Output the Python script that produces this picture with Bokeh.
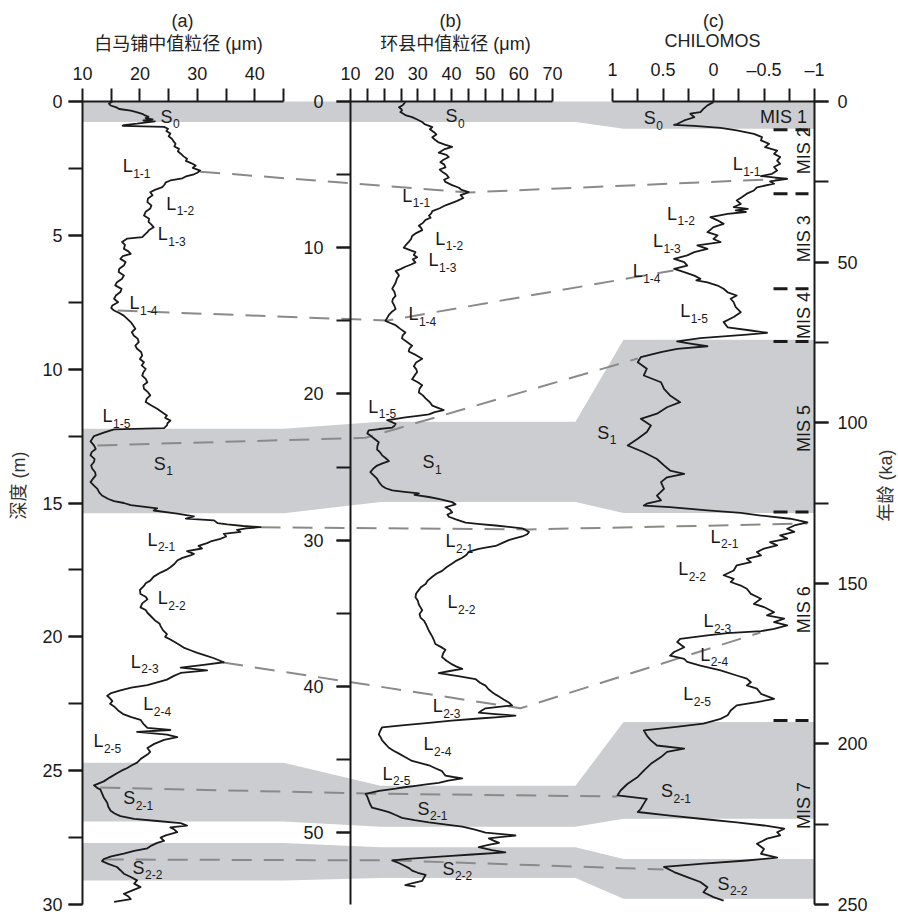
import math
from bokeh.plotting import figure
from bokeh.models import Range1d, LinearAxis, SingleIntervalTicker, FixedTicker, ColumnDataSource
from bokeh.core.properties import value
from bokeh.embed import file_html
from bokeh.resources import INLINE

# ------------------------------------------------------------------ data
# (a) Baimapu: depth (m) and median grain size (um)
A_DEPTH = [0.00, 0.08, 0.15, 0.22, 0.28, 0.34, 0.40, 0.46, 0.52, 0.57,
           0.62, 0.67, 0.71, 0.74, 0.78, 0.83, 0.88, 0.91, 0.95, 1.02,
           1.10, 1.20, 1.30, 1.40, 1.50, 1.58, 1.68, 1.77, 1.86, 1.95,
           2.05, 2.14, 2.22, 2.30, 2.39, 2.48, 2.58, 2.66, 2.72, 2.80,
           2.87, 2.95, 3.02, 3.10, 3.20, 3.30, 3.39, 3.50, 3.62, 3.76,
           3.88, 4.00, 4.12, 4.26, 4.38, 4.50, 4.60, 4.70, 4.80, 4.88,
           4.98, 5.07, 5.12, 5.25, 5.36, 5.50, 5.60, 5.69, 5.78, 5.88,
           6.00, 6.13, 6.25, 6.37, 6.50, 6.62, 6.75, 6.87, 7.00, 7.12,
           7.25, 7.37, 7.50, 7.62, 7.72, 7.81, 7.90, 8.00, 8.12, 8.24,
           8.36, 8.49, 8.62, 8.74, 8.86, 8.99, 9.12, 9.24, 9.36, 9.49,
           9.62, 9.74, 9.86, 9.99, 10.12, 10.24, 10.36, 10.49, 10.60, 10.73,
           10.86, 10.98, 11.10, 11.23, 11.36, 11.48, 11.60, 11.73, 11.82, 11.92,
           12.02, 12.10, 12.20, 12.25, 12.37, 12.50, 12.70, 12.85, 12.98, 13.10,
           13.22, 13.35, 13.47, 13.60, 13.72, 13.85, 13.97, 14.10, 14.22, 14.35,
           14.47, 14.60, 14.72, 14.85, 14.93, 15.00, 15.08, 15.20, 15.28, 15.40,
           15.50, 15.58, 15.65, 15.75, 15.80, 15.86, 15.90, 15.95, 16.00, 16.08,
           16.15, 16.25, 16.34, 16.42, 16.50, 16.60, 16.70, 16.80, 16.90, 16.96,
           17.05, 17.15, 17.28, 17.40, 17.50, 17.60, 17.75, 17.90, 18.00, 18.10,
           18.25, 18.40, 18.50, 18.60, 18.75, 18.90, 19.00, 19.10, 19.25, 19.40,
           19.50, 19.60, 19.75, 19.90, 20.00, 20.10, 20.25, 20.40, 20.50, 20.60,
           20.70, 20.80, 20.95, 21.05, 21.15, 21.25, 21.35, 21.45, 21.60, 21.70,
           21.80, 21.90, 22.00, 22.10, 22.20, 22.30, 22.40, 22.50, 22.60, 22.75,
           22.90, 23.00, 23.10, 23.25, 23.40, 23.48, 23.55, 23.65, 23.75, 23.85,
           24.00, 24.15, 24.30, 24.40, 24.55, 24.70, 24.80, 24.90, 25.00, 25.10,
           25.25, 25.40, 25.55, 25.65, 25.70, 25.85, 26.00, 26.10, 26.20, 26.35,
           26.50, 26.60, 26.70, 26.80, 26.88, 26.96, 27.05, 27.12, 27.20, 27.30,
           27.42, 27.50, 27.62, 27.70, 27.80, 27.90, 28.00, 28.10, 28.20, 28.30,
           28.38, 28.48, 28.60, 28.72, 28.85, 28.98, 29.10, 29.22, 29.35, 29.48,
           29.60, 29.70, 29.80, 29.90]
A_SIZE = [15.2, 14.6, 14.9, 15.9, 16.4, 18.4, 19.4, 20.4, 20.9, 21.5,
          21.0, 22.2, 20.6, 22.6, 21.2, 19.5, 17.2, 17.0, 24.2, 24.9,
          24.6, 25.3, 25.0, 25.6, 25.9, 26.2, 26.0, 26.8, 26.6, 27.1,
          27.6, 28.2, 28.0, 28.9, 29.7, 29.2, 30.5, 30.0, 29.4, 28.0,
          27.4, 25.3, 24.5, 24.3, 23.9, 22.6, 21.8, 22.2, 21.4, 21.3,
          22.0, 21.8, 21.0, 20.7, 21.6, 21.5, 22.0, 22.4, 21.6, 21.3,
          20.8, 20.4, 17.8, 16.9, 17.4, 17.2, 18.0, 18.4, 17.0, 16.6,
          17.5, 17.2, 16.4, 16.3, 17.2, 16.9, 16.0, 15.7, 16.8, 16.6,
          15.8, 15.5, 16.2, 15.2, 15.0, 15.5, 16.4, 17.2, 17.8, 18.4,
          18.8, 19.2, 18.6, 18.9, 19.6, 19.8, 19.2, 19.5, 20.2, 20.4,
          20.0, 20.7, 20.3, 21.0, 20.6, 20.4, 21.0, 21.3, 20.6, 20.7,
          21.4, 21.8, 21.2, 21.0, 22.0, 23.0, 23.8, 24.7, 24.4, 25.3,
          24.8, 24.7, 24.2, 15.5, 13.7, 12.0, 11.4, 12.0, 12.3, 11.6,
          11.4, 12.1, 12.0, 11.5, 11.7, 12.2, 12.3, 11.8, 11.4, 12.0,
          12.6, 12.9, 13.4, 14.5, 15.5, 17.2, 18.4, 23.0, 22.4, 26.5,
          29.4, 28.0, 32.9, 33.5, 35.2, 38.0, 41.0, 38.5, 36.9, 37.5,
          34.6, 35.0, 34.0, 32.5, 31.7, 30.2, 30.8, 28.2, 29.4, 28.8,
          27.4, 26.5, 26.0, 25.3, 24.6, 23.6, 22.4, 21.8, 21.0, 20.7,
          20.0, 20.1, 21.0, 21.3, 20.4, 20.1, 21.0, 21.3, 22.0, 22.7,
          23.4, 23.6, 24.0, 24.7, 24.4, 25.3, 26.5, 27.6, 28.8, 30.0,
          31.5, 32.9, 34.6, 31.1, 27.1, 31.7, 27.1, 26.0, 24.7, 23.0,
          21.3, 18.5, 16.6, 15.0, 14.3, 14.8, 15.2, 14.8, 15.5, 16.2,
          17.2, 18.5, 20.1, 20.6, 21.3, 25.3, 19.5, 24.7, 26.5, 24.2,
          22.5, 21.3, 21.8, 21.3, 20.2, 19.5, 18.6, 17.8, 16.8, 16.0,
          14.8, 13.7, 12.0, 12.6, 13.1, 13.4, 13.7, 14.0, 14.3, 14.5,
          14.9, 15.6, 16.6, 19.0, 23.0, 27.1, 28.2, 25.3, 26.0, 26.5,
          24.5, 23.6, 24.2, 23.0, 22.0, 21.3, 19.0, 17.2, 15.0, 13.7,
          13.4, 14.5, 16.0, 16.6, 17.2, 18.5, 19.5, 19.0, 20.1, 18.6,
          17.2, 18.0, 18.4, 15.5]

# (b) Huanxian: depth (m) and median grain size (um)
B_DEPTH = [0.05, 0.25, 0.40, 0.50, 0.60, 0.72, 0.85, 0.95, 1.07, 1.20,
           1.40, 1.55, 1.75, 1.90, 2.10, 2.25, 2.45, 2.60, 2.80, 2.95,
           3.10, 3.25, 3.50, 3.65, 3.80, 4.00, 4.15, 4.30, 4.50, 4.65,
           4.80, 5.00, 5.20, 5.35, 5.50, 5.70, 5.90, 6.05, 6.20, 6.30,
           6.40, 6.60, 6.80, 6.95, 7.10, 7.30, 7.50, 7.65, 7.80, 7.95,
           8.10, 8.30, 8.50, 8.65, 8.80, 9.00, 9.20, 9.40, 9.60, 9.80,
           10.00, 10.15, 10.30, 10.50, 10.65, 10.80, 11.00, 11.15, 11.30, 11.45,
           11.60, 11.75, 11.90, 12.10, 12.40, 12.60, 12.80, 13.00, 13.30, 13.50,
           13.70, 13.95, 14.20, 14.40, 14.60, 14.80, 15.00, 15.15, 15.30, 15.55,
           15.80, 16.00, 16.20, 16.45, 16.70, 16.90, 17.10, 17.35, 17.60, 17.85,
           18.10, 18.30, 18.50, 18.75, 19.00, 19.20, 19.40, 19.65, 19.90, 20.10,
           20.30, 20.55, 20.80, 20.95, 21.10, 21.25, 21.40, 21.50, 21.60, 21.70,
           21.80, 21.95, 22.05, 22.20, 22.30, 22.40, 22.50, 22.70, 22.85, 23.05,
           23.30, 23.55, 23.80, 24.00, 24.20, 24.40, 24.60, 24.75, 24.90, 25.10,
           25.35, 25.55, 25.80, 26.05, 26.30, 26.45, 26.60, 26.70, 26.80, 26.90,
           27.05, 27.20, 27.40, 27.55, 27.75, 27.90, 28.10, 28.25, 28.40, 28.60,
           28.80, 28.90, 29.00, 29.10, 29.20, 29.30, 29.45, 29.60, 29.75, 29.90,
           30.00, 30.20, 30.40, 30.50, 30.60, 30.70, 30.80, 31.00, 31.20, 31.40,
           31.60, 31.85, 32.10, 32.30, 32.50, 32.75, 33.00, 33.20, 33.40, 33.65,
           33.90, 34.15, 34.40, 34.60, 34.80, 35.05, 35.30, 35.50, 35.70, 35.95,
           36.20, 36.40, 36.60, 36.85, 37.10, 37.30, 37.50, 37.75, 38.00, 38.25,
           38.50, 38.65, 38.80, 38.95, 39.10, 39.30, 39.50, 39.75, 39.95, 40.20,
           40.40, 40.55, 40.70, 40.90, 41.10, 41.30, 41.40, 41.50, 41.65, 41.80,
           41.90, 42.00, 42.10, 42.20, 42.35, 42.50, 42.65, 42.80, 43.05, 43.30,
           43.50, 43.70, 43.95, 44.20, 44.40, 44.60, 44.85, 45.10, 45.25, 45.40,
           45.60, 45.80, 46.00, 46.10, 46.20, 46.30, 46.45, 46.60, 46.70, 46.80,
           46.90, 47.00, 47.15, 47.35, 47.55, 47.80, 48.05, 48.30, 48.45, 48.60,
           48.80, 49.00, 49.15, 49.30, 49.45, 49.60, 49.80, 50.00, 50.20, 50.30,
           50.40, 50.55, 50.70, 50.85, 51.00, 51.20, 51.35, 51.50, 51.60, 51.70,
           51.80, 51.90, 52.10, 52.30, 52.45, 52.60, 52.75, 52.90, 53.10, 53.30,
           53.45, 53.60, 53.70]
B_SIZE = [26.3, 25.5, 24.4, 25.0, 25.3, 24.8, 25.8, 26.5, 28.3, 29.5,
          31.3, 32.0, 34.3, 33.6, 34.8, 35.5, 34.3, 35.0, 36.2, 38.0,
          40.2, 38.0, 36.2, 38.5, 39.2, 37.5, 36.7, 37.8, 38.2, 36.5,
          37.2, 38.5, 39.2, 37.8, 38.2, 40.0, 42.2, 43.0, 45.1, 44.0,
          42.7, 43.5, 41.7, 40.0, 38.2, 36.5, 34.3, 34.0, 33.3, 33.8,
          32.3, 31.5, 30.3, 31.0, 31.3, 29.5, 28.3, 28.0, 27.3, 26.5,
          25.8, 27.5, 29.3, 28.8, 29.8, 28.5, 29.3, 28.0, 26.3, 25.0,
          23.4, 24.0, 24.4, 23.8, 23.4, 22.9, 22.4, 23.0, 23.4, 22.6,
          22.4, 23.0, 23.4, 22.2, 21.4, 20.9, 20.4, 21.8, 23.4, 24.8,
          26.3, 25.5, 25.3, 26.8, 28.3, 27.5, 27.3, 29.5, 31.3, 29.5,
          28.8, 29.5, 29.8, 29.0, 28.3, 30.0, 31.3, 30.5, 30.3, 31.5,
          32.3, 33.5, 34.3, 36.0, 37.7, 35.0, 33.3, 30.0, 26.3, 23.5,
          20.9, 22.5, 23.4, 23.0, 22.4, 18.5, 15.4, 15.0, 15.9, 17.0,
          18.4, 18.0, 17.9, 18.8, 19.4, 20.5, 21.4, 19.5, 17.9, 16.8,
          15.9, 16.8, 17.9, 18.5, 19.4, 20.5, 22.4, 26.0, 30.3, 29.0,
          33.3, 36.5, 40.2, 41.2, 38.2, 39.5, 40.2, 38.8, 39.2, 41.5,
          44.2, 48.5, 53.1, 57.0, 61.0, 62.0, 63.0, 62.5, 61.0, 58.5,
          57.0, 55.0, 53.1, 50.5, 48.1, 46.5, 45.1, 44.5, 43.2, 41.5,
          40.2, 38.5, 37.2, 35.5, 34.3, 33.0, 32.3, 31.0, 30.3, 29.5,
          29.3, 30.0, 30.3, 30.8, 31.3, 30.5, 30.8, 31.8, 32.3, 32.8,
          33.3, 33.8, 34.3, 34.8, 35.2, 36.8, 38.2, 37.5, 37.2, 38.5,
          40.2, 41.5, 43.2, 39.5, 36.2, 42.0, 47.1, 48.5, 50.1, 51.0,
          52.1, 53.0, 54.1, 55.5, 57.0, 58.0, 54.0, 50.1, 49.0, 48.1,
          53.0, 59.0, 54.0, 48.1, 40.0, 33.3, 26.0, 19.4, 18.8, 18.4,
          19.0, 19.4, 20.4, 21.4, 22.8, 24.4, 26.3, 28.3, 30.8, 33.3,
          35.2, 37.2, 37.8, 38.2, 40.5, 43.2, 39.0, 36.2, 32.5, 29.3,
          26.0, 23.4, 18.5, 14.5, 15.0, 15.4, 15.8, 16.4, 19.0, 21.4,
          23.4, 25.3, 29.0, 33.3, 38.5, 43.2, 47.0, 50.1, 59.0, 55.0,
          51.1, 52.5, 54.1, 51.0, 48.1, 52.0, 56.0, 46.1, 40.0, 33.3,
          27.0, 22.4, 24.5, 26.3, 27.5, 28.3, 30.0, 32.3, 31.8, 31.3,
          28.5, 26.3, 29.3]

# (c) CHILOMOS stack: age (ka) and index
C_AGE = [0.2, 1.2, 2.3, 3.3, 3.8, 4.9, 5.9, 7.0, 7.3, 7.6,
         8.2, 9.0, 10.1, 11.1, 12.1, 13.2, 14.2, 15.3, 16.3, 17.3,
         18.4, 19.4, 20.4, 21.5, 22.5, 23.2, 24.1, 24.9, 25.6, 26.7,
         27.7, 28.7, 29.8, 30.8, 31.9, 32.9, 33.4, 33.9, 34.4, 35.0,
         36.0, 37.0, 38.1, 39.1, 40.7, 41.7, 42.8, 43.8, 44.8, 45.9,
         46.9, 47.9, 49.0, 50.0, 51.1, 52.1, 53.1, 54.2, 55.2, 55.7,
         56.3, 57.3, 58.3, 59.4, 60.4, 61.4, 62.5, 64.0, 65.6, 67.1,
         68.7, 70.3, 71.3, 72.0, 72.6, 73.7, 74.7, 75.4, 76.2, 77.0,
         78.0, 79.6, 81.2, 83.2, 85.3, 87.4, 89.5, 91.5, 93.6, 95.2,
         97.2, 98.8, 100.9, 102.9, 105.0, 107.1, 109.2, 111.3, 113.3, 114.9,
         115.9, 117.0, 118.5, 120.6, 122.7, 124.2, 125.2, 125.8, 126.3, 127.3,
         128.1, 128.9, 129.9, 131.0, 132.0, 133.0, 134.0, 135.1, 136.1, 137.2,
         138.2, 139.2, 140.3, 141.3, 142.4, 143.4, 144.4, 146.0, 147.5, 148.6,
         149.6, 150.7, 151.7, 153.3, 154.8, 156.4, 157.4, 159.0, 160.0, 161.0,
         162.1, 163.1, 164.2, 164.9, 165.5, 166.2, 167.3, 168.3, 169.9, 171.4,
         172.5, 173.5, 174.5, 175.6, 177.1, 178.7, 179.7, 180.8, 181.8, 182.8,
         184.4, 186.0, 187.0, 188.0, 189.6, 191.1, 192.2, 193.7, 194.8, 195.8,
         197.4, 198.9, 200.5, 201.5, 202.5, 204.1, 206.2, 208.3, 210.3, 212.4,
         214.5, 216.0, 217.1, 218.6, 220.2, 221.2, 222.3, 223.3, 224.4, 225.4,
         226.4, 227.5, 228.5, 229.5, 231.1, 232.7, 234.2, 235.4, 236.3, 237.3,
         238.3, 239.9, 241.5, 243.0, 244.6, 246.2, 247.7, 248.8]
C_INDEX = [0.00, 0.06, 0.10, 0.13, 0.23, 0.19, 0.29, 0.36, 0.39, 0.19,
           -0.07, -0.23, -0.40, -0.48, -0.47, -0.55, -0.51, -0.63, -0.60, -0.66,
           -0.63, -0.66, -0.60, -0.63, -0.58, -0.47, -0.73, -0.56, -0.60, -0.43,
           -0.40, -0.33, -0.28, -0.23, -0.27, -0.20, -0.34, -0.22, -0.32, -0.14,
           0.03, -0.04, -0.10, 0.00, 0.06, -0.04, 0.00, -0.07, 0.16, 0.06,
           0.19, 0.26, 0.39, 0.29, 0.26, 0.39, 0.29, 0.19, 0.13, 0.17,
           0.06, -0.04, -0.10, -0.14, -0.23, -0.17, -0.20, -0.22, -0.27, -0.20,
           -0.10, -0.14, -0.37, -0.53, -0.33, 0.13, 0.36, 0.23, 0.06, 0.36,
           0.52, 0.72, 0.75, 0.66, 0.69, 0.52, 0.49, 0.43, 0.33, 0.46,
           0.56, 0.72, 0.62, 0.66, 0.75, 0.85, 0.69, 0.56, 0.49, 0.43,
           0.29, 0.46, 0.52, 0.49, 0.56, 0.52, 0.66, 0.69, 0.43, 0.06,
           -0.27, -0.47, -0.76, -0.93, -0.80, -0.73, -0.80, -0.66, -0.73, -0.56,
           -0.63, -0.50, -0.43, -0.47, -0.33, -0.37, -0.23, -0.20, -0.10, -0.20,
           -0.17, -0.27, -0.33, -0.37, -0.47, -0.40, -0.50, -0.60, -0.53, -0.70,
           -0.60, -0.73, -0.60, -0.47, -0.14, 0.06, 0.33, 0.36, 0.29, 0.39,
           0.43, 0.29, 0.26, 0.13, -0.07, -0.23, -0.33, -0.37, -0.33, -0.43,
           -0.47, -0.60, -0.43, -0.23, -0.17, -0.14, -0.07, 0.10, 0.39, 0.69,
           0.66, 0.62, 0.56, 0.29, 0.46, 0.52, 0.62, 0.69, 0.75, 0.85,
           0.92, 0.95, 0.66, 0.69, 0.72, 0.75, 0.43, 0.13, -0.23, -0.50,
           -0.70, -0.63, -0.66, -0.53, -0.43, -0.50, -0.47, -0.63, -0.33, 0.10,
           0.49, 0.39, 0.26, 0.13, 0.06, 0.10, 0.00, -0.10]

# palaeosol bands (S0, S1, S2-1, S2-2): top/bottom in each record's own units
BAND_A_TOP = [0.0, 12.23, 24.7, 27.7]
BAND_A_BOT = [0.77, 15.38, 26.9, 29.1]
BAND_B_TOP = [0.0, 21.9, 46.8, 51.0]
BAND_B_BOT = [1.41, 27.4, 49.6, 53.1]
BAND_C_TOP = [0.0, 74.2, 193.2, 235.8]
BAND_C_BOT = [8.5, 128.1, 223.3, 248.2]

# correlation tie points (dashed lines)
TIE_A_SIZE = [30.5, 16.1, 12.6, 41.0, 34.5, 13.1, 13.7]
TIE_A_DEPTH = [2.62, 7.81, 12.85, 15.91, 20.96, 25.63, 28.32]
TIE_B_SIZE = [45.0, 20.9, 14.5, 62.9, 60.5, 14.5, 21.9]
TIE_B_DEPTH = [6.22, 14.98, 23.0, 29.27, 41.5, 47.33, 51.9]
TIE_C_INDEX = [-0.73, 0.396, 0.75, -0.93, -0.465, 0.95, 0.495]
TIE_C_AGE = [24.0, 52.6, 80.0, 131.4, 165.3, 216.4, 239.1]

# marine isotope stages
MIS_BOUNDS = [8.8, 28.7, 58.3, 74.7, 127.8, 192.7]
MIS_NAMES = ["MIS 2", "MIS 3", "MIS 4", "MIS 5", "MIS 6", "MIS 7"]
MIS_MID = [15.3, 42.7, 66.6, 101.8, 158.2, 219.2]
MIS1_NAME, MIS1_AGE = "MIS 1", 4.7

# unit labels
LBL_BASE = ["S", "L", "L", "L", "L", "L", "S", "L", "L", "L", "L", "L", "S", "S"]
LBL_SUB = ["0", "1-1", "1-2", "1-3", "1-4", "1-5", "1", "2-1", "2-2", "2-3", "2-4", "2-5", "2-1", "2-2"]
A_LBL_X = [23.6, 17.0, 24.6, 23.1, 18.2, 13.5, 22.4, 21.3, 23.1, 18.4, 20.6, 11.9, 17.1, 18.7]
A_LBL_Y = [0.64, 2.50, 3.89, 5.04, 7.62, 11.84, 13.6, 16.44, 18.64, 21.0, 22.6, 23.98, 26.1, 28.7]
B_LBL_X = [38.2, 25.4, 35.2, 33.2, 27.2, 15.3, 31.4, 38.2, 38.8, 34.4, 31.7, 19.5, 29.9, 37.3]
B_LBL_Y = [1.16, 6.57, 9.51, 11.0, 14.7, 21.0, 24.8, 30.2, 34.4, 41.5, 44.1, 46.1, 48.5, 52.6]
C_LBL_X = [0.69, -0.19, 0.46, 0.60, 0.80, 0.33, 1.15, 0.03, 0.35, 0.10, 0.13, 0.30, 0.52, -0.04]
C_LBL_Y = [5.9, 20.2, 35.5, 44.2, 53.5, 66.0, 103.7, 136.1, 146.3, 162.5, 172.8, 185.2, 215.4, 244.1]

# axes
A_TICKS, A_MINOR = [10, 20, 30, 40], [15, 25, 35, 45]
B_TICKS, B_MINOR = [10, 20, 30, 40, 50, 60, 70], [15, 25, 35, 45, 55, 65]
C_TICKS, C_MINOR = [1, 0.5, 0, -0.5, -1], [0.75, 0.25, -0.25, -0.75]
C_TICK_TEXT = ["1", "0.5", "0", "\u20130.5", "\u20131"]

TITLES = ["(a)", "白马铺中值粒径 (μm)", "(b)", "环县中值粒径 (μm)", "(c)", "CHILOMOS"]
Y_TITLES = ["深度 (m)", "年龄 (ka)"]

# ------------------------------------------------------------------ layout
W, H = 898, 914                       # canvas == frame (px)
Y0, Y1 = 101, 904                     # px of value zero / of Y_BOTTOM values
X_ANCH = {"a": (10, 82, 45, 283), "b": (10, 350, 70, 552), "c": (1, 612, -1, 814)}
Y_BOTTOM = {"a": 30.0, "b": 54.92, "c": 250.0}
AB = (283, 380)   # band connector a->b (px)
BC = (575, 623)   # band connector b->c (px)
INK = "#1a1a1a"
GRAY = "#cbcdd0"
DASH_GRAY = "#8a8a8a"
FONT = "Liberation Sans, Noto Sans CJK SC"
FS = "18px"


def xv(k, px):
    v0, p0, v1, p1 = X_ANCH[k]
    return v0 + (px - p0) * (v1 - v0) / (p1 - p0)


def xp(k, v):
    v0, p0, v1, p1 = X_ANCH[k]
    return p0 + (v - v0) * (p1 - p0) / (v1 - v0)


def yv(k, py):
    return (py - Y0) * Y_BOTTOM[k] / (Y1 - Y0)


def yp(k, v):
    return Y0 + v * (Y1 - Y0) / Y_BOTTOM[k]


def nm(k):
    return "default" if k == "a" else k


def rn(k):
    return dict(x_range_name=nm(k), y_range_name=nm(k))


xr = {k: Range1d(start=xv(k, 0), end=xv(k, W)) for k in "abc"}
yr = {k: Range1d(start=yv(k, H), end=yv(k, 0)) for k in "abc"}

p = figure(width=W, height=H, x_range=xr["a"], y_range=yr["a"],
           output_backend="svg", toolbar_location=None,
           x_axis_type=None, y_axis_type=None,
           min_border_left=0, min_border_right=0, min_border_top=0, min_border_bottom=0)
p.extra_x_ranges = {"b": xr["b"], "c": xr["c"]}
p.extra_y_ranges = {"b": yr["b"], "c": yr["c"]}
p.outline_line_color = None
p.background_fill_color = "white"
p.border_fill_color = "white"
p.grid.visible = False


def add_text(xs, ys, texts, k="a", **kw):
    src = ColumnDataSource(dict(x=list(xs), y=list(ys), text=list(texts)))
    opts = dict(text_font=value(FONT), text_font_size=value(FS), text_color=INK,
                text_align="center", text_baseline="middle")
    opts.update(kw)
    p.text(x="x", y="y", text="text", source=src, **rn(k), **opts)


# ---- bands (span all three records, drawn in panel-a coordinates)
bxs, bys = [], []
for i in range(len(BAND_A_TOP)):
    ta, ba = yp("a", BAND_A_TOP[i]), yp("a", BAND_A_BOT[i])
    tb, bb = yp("b", BAND_B_TOP[i]), yp("b", BAND_B_BOT[i])
    tc, bc = yp("c", BAND_C_TOP[i]), yp("c", BAND_C_BOT[i])
    x_left, x_right = xp("a", 10), xp("c", -1)
    px_x = [x_left, AB[0], AB[1], BC[0], BC[1], x_right, x_right, BC[1], BC[0], AB[1], AB[0], x_left]
    px_y = [ta, ta, tb, tb, tc, tc, bc, bc, bb, bb, ba, ba]
    bxs.append([xv("a", v) for v in px_x])
    bys.append([yv("a", v) for v in px_y])
p.patches(bxs, bys, fill_color=GRAY, line_color=None)

# ---- correlation dashed lines
lxs, lys = [], []
for i in range(len(TIE_A_SIZE)):
    px_x = [xp("a", TIE_A_SIZE[i]), xp("b", TIE_B_SIZE[i]), xp("c", TIE_C_INDEX[i])]
    px_y = [yp("a", TIE_A_DEPTH[i]), yp("b", TIE_B_DEPTH[i]), yp("c", TIE_C_AGE[i])]
    lxs.append([xv("a", v) for v in px_x])
    lys.append([yv("a", v) for v in px_y])
p.multi_line(lxs, lys, line_color=DASH_GRAY, line_width=2, line_dash="20 12")

# ---- MIS boundary marks
mis_x0, mis_x1 = xv("c", 773), xv("c", 808)
p.multi_line([[mis_x0, mis_x1] for _ in MIS_BOUNDS], [[a, a] for a in MIS_BOUNDS],
             line_color=INK, line_width=3, line_dash="14 8", **rn("c"))

# ---- curves
p.line(A_SIZE, A_DEPTH, line_color=INK, line_width=1.8, line_join="round")
p.line(B_SIZE, B_DEPTH, line_color=INK, line_width=1.8, line_join="round", **rn("b"))
p.line(C_INDEX, C_AGE, line_color=INK, line_width=1.8, line_join="round", **rn("c"))

# ---- unit labels with subscripts
sub_dx = {"L": 10.5, "S": 12.5}
for k, lx, ly in (("a", A_LBL_X, A_LBL_Y), ("b", B_LBL_X, B_LBL_Y), ("c", C_LBL_X, C_LBL_Y)):
    add_text(lx, ly, LBL_BASE, k, text_align="left", y_offset=-2)
    src = ColumnDataSource(dict(x=lx, y=ly, text=LBL_SUB, dx=[sub_dx[b] for b in LBL_BASE]))
    p.text(x="x", y="y", text="text", source=src, x_offset="dx", y_offset=5,
           text_font=value(FONT), text_font_size=value("12px"), text_color=INK,
           text_align="left", text_baseline="middle", **rn(k))

# ---- MIS labels
add_text([xv("c", 783)], [MIS1_AGE], [MIS1_NAME], "c")
add_text([xv("c", 803)] * len(MIS_NAMES), MIS_MID, MIS_NAMES, "c", angle=math.pi / 2)

# ---- titles and vertical axis titles
tx = [xv("a", 182), xv("a", 178), xv("a", 450), xv("a", 455), xv("a", 713), xv("a", 712)]
ty = [yv("a", 20), yv("a", 43), yv("a", 20), yv("a", 43), yv("a", 20), yv("a", 40)]
add_text(tx, ty, TITLES, "a", text_color="#222222")
add_text([xv("a", 18), xv("a", 885)], [yv("a", 485), yv("a", 485)], Y_TITLES, "a",
         text_color="#333333", angle=math.pi / 2)

# ---- axes (library axes, fixed inside the canvas)
common = dict(axis_line_color=INK, axis_line_width=2,
              major_tick_line_color=INK, major_tick_line_width=2,
              minor_tick_line_color=INK, minor_tick_line_width=2,
              major_tick_in=0, minor_tick_in=0,
              major_label_text_font=FONT, major_label_text_font_size=FS,
              major_label_text_color=INK)


def add_axis(k, side, ticker, bounds, loc, tick, standoff, **kw):
    ax = LinearAxis(ticker=ticker, bounds=bounds, fixed_location=loc,
                    major_tick_out=tick, minor_tick_out=tick,
                    major_label_standoff=standoff, **rn(k), **common, **kw)
    p.add_layout(ax, side)


add_axis("a", "left", SingleIntervalTicker(interval=5, num_minor_ticks=2), (0, 30), 10, 14, 6)
add_axis("b", "left", SingleIntervalTicker(interval=10, num_minor_ticks=2), (0, Y_BOTTOM["b"]), 10, 14, 13)
add_axis("c", "right", SingleIntervalTicker(interval=50, num_minor_ticks=2), (0, 250), -1, 14, 9)
add_axis("a", "above", FixedTicker(ticks=A_TICKS, minor_ticks=A_MINOR), (10, 45), 0, 13, 9)
add_axis("b", "above", FixedTicker(ticks=B_TICKS, minor_ticks=B_MINOR), (10, 70), 0, 13, 9)
add_axis("c", "above", FixedTicker(ticks=C_TICKS, minor_ticks=C_MINOR), (-1, 1), 0, 13, 9,
         major_label_overrides=dict(zip(C_TICKS, C_TICK_TEXT)))

open("out.html", "w").write(file_html(p, INLINE))
